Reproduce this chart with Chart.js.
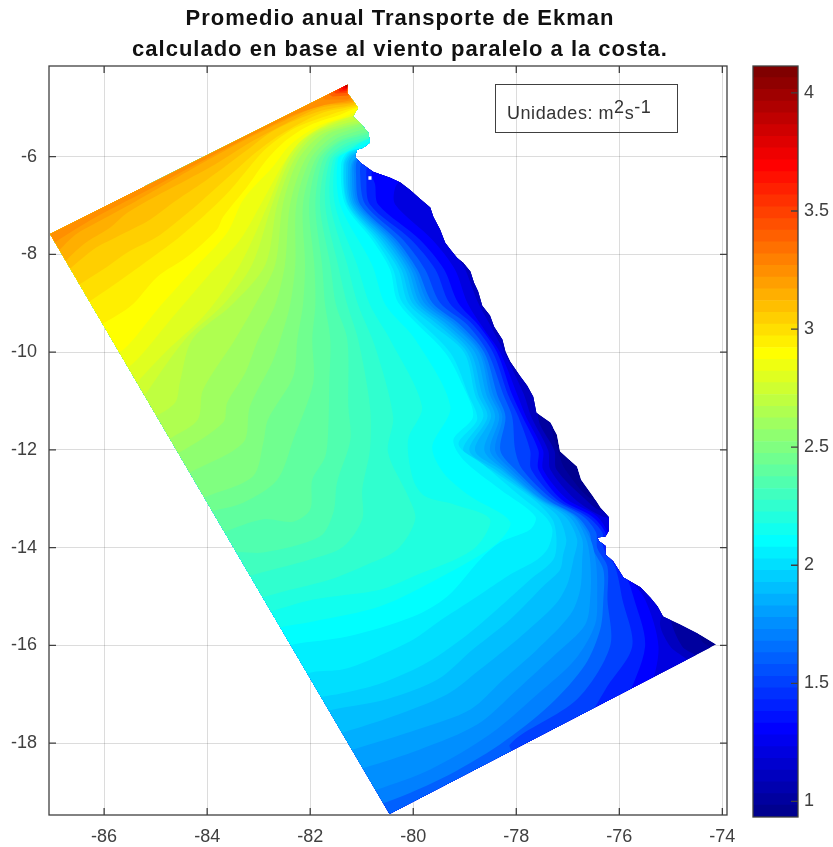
<!DOCTYPE html>
<html>
<head>
<meta charset="utf-8">
<title>Promedio anual Transporte de Ekman</title>
<script src="https://cdn.jsdelivr.net/npm/chart.js@4"></script>
<style>
  html, body { margin: 0; padding: 0; background: #fff; }
  #wrap { position: relative; width: 833px; height: 847px; overflow: hidden; font-family: "Liberation Sans", sans-serif; }
  #mapChart { position: absolute; left: 0; top: 0; }
  #barChart { position: absolute; left: 740px; top: 0; }
  #title { position: absolute; left: 0; top: 2px; width: 800px; text-align: center; color: #111; font-weight: bold;
           font-size: 22px; line-height: 31px; letter-spacing: 1px; white-space: nowrap; }
  #units { position: absolute; left: 495px; top: 84px; width: 181px; height: 47px; border: 1.5px solid #404040;
           color: #333; font-size: 18px; line-height: 56px; text-indent: 11px; white-space: nowrap; letter-spacing: 0.55px; }
  #units sup { font-size: 18px; line-height: 0; vertical-align: 6px; }
</style>
</head>
<body>
<div id="wrap">
  <canvas id="mapChart" width="800" height="847"></canvas>
  <canvas id="barChart" width="93" height="847"></canvas>
  <div id="title"></div>
  <div id="units">Unidades: m<sup>2</sup>s<sup>-1</sup></div>
</div>
<script>
const titleLines = ['Promedio anual Transporte de Ekman', 'calculado en base al viento paralelo a la costa.'];
const lonTicks = [-86, -84, -82, -80, -78, -76, -74];
const latTicks = [-18, -16, -14, -12, -10, -8, -6];
const barTicks = [1, 1.5, 2, 2.5, 3, 3.5, 4];

// edges of the 64 colorbar bands
const bandEdges = [0.934, 0.984, 1.033, 1.083, 1.133, 1.182, 1.232, 1.282, 1.332, 1.381, 1.431, 1.481, 1.530, 1.580, 1.630, 1.679,
  1.729, 1.779, 1.828, 1.878, 1.928, 1.978, 2.027, 2.077, 2.127, 2.176, 2.226, 2.276, 2.325, 2.375, 2.425, 2.474,
  2.524, 2.574, 2.624, 2.673, 2.723, 2.773, 2.822, 2.872, 2.922, 2.971, 3.021, 3.071, 3.121, 3.170, 3.220, 3.270,
  3.319, 3.369, 3.419, 3.468, 3.518, 3.568, 3.617, 3.667, 3.717, 3.767, 3.816, 3.866, 3.916, 3.965, 4.015, 4.065, 4.114];

// outline of the area with data [lon, lat]
const outline = [[-87.05,-7.58],[-81.28,-4.53],[-81.28,-4.69],[-81.20,-4.81],[-81.07,-5.00],[-81.17,-5.18],[-81.03,-5.31],[-80.87,-5.51],
  [-80.84,-5.71],[-80.97,-5.82],[-81.09,-5.86],[-81.13,-6.00],[-81.03,-6.12],[-80.78,-6.31],[-80.45,-6.43],[-80.25,-6.53],[-80.06,-6.68],
  [-79.87,-6.86],[-79.67,-7.04],[-79.61,-7.23],[-79.48,-7.49],[-79.38,-7.76],[-79.28,-7.90],[-79.15,-8.07],[-79.03,-8.17],[-78.89,-8.35],
  [-78.82,-8.58],[-78.74,-8.76],[-78.66,-9.05],[-78.51,-9.25],[-78.43,-9.48],[-78.27,-9.74],[-78.21,-9.99],[-78.12,-10.19],[-77.92,-10.50],
  [-77.79,-10.68],[-77.67,-10.91],[-77.61,-11.24],[-77.34,-11.44],[-77.21,-11.69],[-77.15,-12.03],[-76.99,-12.18],[-76.82,-12.34],
  [-76.74,-12.61],[-76.51,-12.95],[-76.37,-13.18],[-76.20,-13.38],[-76.20,-13.65],[-76.27,-13.77],[-76.43,-13.79],[-76.39,-13.87],
  [-76.27,-13.96],[-76.27,-14.14],[-76.12,-14.28],[-75.92,-14.61],[-75.59,-14.81],[-75.40,-15.02],[-75.26,-15.20],[-75.15,-15.41],
  [-74.82,-15.57],[-74.43,-15.78],[-74.12,-15.98],[-80.46,-19.45]];
const speck = [[-80.87,-6.40],[-80.81,-6.40],[-80.81,-6.47],[-80.87,-6.47]];

// contour lines, number is the colorbar band that starts at that line
const e02 = [[-78,-25],[-74.20,-16.12],[-74.39,-15.92],[-74.53,-15.63],[-75.98,-13.01],[-76.53,-13.01],[-77.05,-12.40],[-77.19,-12.01],[-77.30,-11.58],[-77.15,-11.38]];
const e04 = [[-78,-25],[-74.43,-16.33],[-74.78,-16.02],[-75.01,-15.43],[-74.91,-15.06],[-75.98,-13.32],[-76.41,-13.22],[-76.66,-13.01],[-77.22,-12.40],[-77.26,-12.01],[-77.54,-11.48],[-77.57,-11.17],[-77.34,-10.97]];
const e06 = [[-78,-25],[-74.62,-16.45],[-75.01,-16.02],[-75.21,-15.57],[-75.11,-15.06],[-75.98,-13.42],[-76.33,-13.36],[-76.86,-13.01],[-77.34,-12.40],[-77.38,-12.01],[-77.71,-11.32],[-77.85,-10.87],[-78.23,-10.01],[-78.51,-9.44],[-78.74,-8.99],[-78.99,-8.31],[-79.24,-7.80],[-78.89,-7.39]];
const e08 = [[-78,-25],[-75.40,-16.90],[-75.24,-16.02],[-75.50,-15.06],[-75.88,-14.55],[-76.14,-14.14],[-76.21,-13.73],[-76.43,-13.36],[-77.01,-13.01],[-77.48,-12.40],[-77.48,-12.01],[-77.81,-11.32],[-77.98,-10.87],[-78.31,-10.01],[-78.62,-9.54],[-78.95,-8.99],[-79.19,-8.31],[-79.63,-7.70],[-80.35,-6.98],[-80.35,-6.63],[-80.16,-6.37]];
const e10 = [[-78,-25],[-75.88,-17.21],[-75.50,-16.02],[-75.71,-15.06],[-75.94,-14.39],[-76.25,-14.00],[-76.27,-13.69],[-76.53,-13.36],[-77.13,-13.01],[-77.57,-12.40],[-77.57,-12.01],[-77.88,-11.32],[-78.08,-10.87],[-78.37,-10.01],[-78.74,-9.44],[-79.13,-8.99],[-79.40,-8.31],[-79.87,-7.70],[-80.68,-6.98],[-80.74,-6.57],[-80.80,-6.31],[-80.35,-6.16]];
const e12 = [[-78,-25],[-76.66,-17.72],[-76.27,-16.90],[-75.75,-16.02],[-75.94,-15.06],[-76.08,-14.39],[-76.31,-14.00],[-76.33,-13.69],[-76.62,-13.36],[-77.22,-13.01],[-77.71,-12.40],[-77.73,-12.01],[-77.96,-11.32],[-78.16,-10.87],[-78.45,-10.01],[-78.84,-9.44],[-79.30,-8.99],[-79.57,-8.31],[-80.04,-7.70],[-80.84,-6.98],[-80.91,-6.43],[-80.87,-6.16],[-80.45,-6.06]];
const e14 = [[-78,-25],[-77.92,-18.43],[-78.12,-18.02],[-76.82,-17.10],[-76.18,-16.02],[-76.23,-15.06],[-76.23,-14.39],[-76.43,-14.00],[-76.45,-13.69],[-76.70,-13.36],[-77.30,-13.01],[-77.88,-12.40],[-78.02,-12.01],[-78.08,-11.32],[-78.25,-10.87],[-78.55,-10.01],[-78.95,-9.44],[-79.48,-8.99],[-79.77,-8.31],[-80.20,-7.70],[-80.93,-6.98],[-81.03,-6.37],[-80.99,-6.12],[-80.54,-6.00],[-80.25,-5.86]];
const e16 = [[-80.93,-19.25],[-80.64,-19.25],[-79.48,-18.74],[-78.31,-18.02],[-77.34,-17.21],[-76.66,-16.39],[-76.37,-15.67],[-76.31,-15.06],[-76.31,-14.45],[-76.53,-14.00],[-76.58,-13.69],[-76.82,-13.36],[-77.40,-13.01],[-78.02,-12.40],[-78.31,-12.01],[-78.21,-11.32],[-78.37,-10.87],[-78.62,-10.01],[-79.09,-9.44],[-79.63,-8.99],[-79.92,-8.31],[-80.33,-7.70],[-81.03,-6.98],[-81.11,-6.37],[-81.07,-6.06],[-80.60,-5.96],[-80.25,-5.82]];
const e17 = [[-81.07,-19.05],[-80.70,-18.95],[-79.67,-18.54],[-78.51,-17.82],[-77.59,-17.00],[-76.86,-16.29],[-76.47,-15.57],[-76.43,-14.96],[-76.45,-14.34],[-76.56,-13.83],[-76.86,-13.36],[-77.44,-13.01],[-78.10,-12.40],[-78.41,-12.01],[-78.27,-11.32],[-78.45,-10.87],[-78.68,-10.01],[-79.17,-9.44],[-79.71,-8.99],[-79.98,-8.31],[-80.39,-7.70],[-81.07,-6.98],[-81.15,-6.37],[-81.11,-6.06],[-80.60,-5.92],[-80.25,-5.80]];
const e18 = [[-81.28,-18.60],[-80.93,-18.50],[-79.87,-18.13],[-78.76,-17.62],[-77.98,-16.90],[-77.24,-16.18],[-76.66,-15.57],[-76.56,-14.96],[-76.56,-14.34],[-76.64,-13.83],[-76.89,-13.36],[-77.50,-13.01],[-78.18,-12.40],[-78.51,-12.01],[-78.33,-11.32],[-78.51,-10.87],[-78.72,-10.01],[-79.24,-9.44],[-79.79,-8.99],[-80.04,-8.31],[-80.45,-7.70],[-81.11,-6.98],[-81.19,-6.37],[-81.13,-6.06],[-80.60,-5.90],[-80.25,-5.76]];
const e19 = [[-81.52,-18.23],[-81.17,-18.13],[-79.92,-17.72],[-78.89,-17.31],[-78.25,-16.70],[-77.59,-16.08],[-76.95,-15.37],[-76.76,-14.86],[-76.72,-14.24],[-76.72,-13.83],[-76.97,-13.36],[-77.53,-13.01],[-78.25,-12.40],[-78.62,-12.01],[-78.41,-11.32],[-78.58,-10.87],[-78.80,-10.01],[-79.34,-9.44],[-79.87,-8.99],[-80.10,-8.31],[-80.50,-7.70],[-81.15,-6.98],[-81.22,-6.27],[-81.13,-6.02],[-80.62,-5.88],[-80.25,-5.73]];
const e20 = [[-81.71,-17.88],[-81.36,-17.78],[-80.39,-17.45],[-79.34,-17.00],[-78.70,-16.49],[-77.98,-15.88],[-77.24,-15.16],[-77.01,-14.75],[-76.89,-14.24],[-76.82,-13.83],[-77.05,-13.36],[-77.57,-13.01],[-78.31,-12.40],[-78.80,-12.01],[-78.49,-11.32],[-78.66,-10.87],[-78.88,-10.01],[-79.42,-9.44],[-79.94,-8.99],[-80.16,-8.31],[-80.56,-7.70],[-81.19,-6.98],[-81.26,-6.16],[-81.15,-5.96],[-80.64,-5.86],[-80.25,-5.71]];
const e21 = [[-81.90,-17.41],[-81.55,-17.31],[-80.51,-17.10],[-79.53,-16.70],[-78.84,-16.08],[-78.12,-15.47],[-77.44,-14.75],[-77.15,-14.45],[-77.09,-14.14],[-77.03,-13.83],[-77.19,-13.36],[-77.61,-13.01],[-78.41,-12.40],[-78.91,-12.01],[-78.56,-11.32],[-78.74,-10.87],[-78.95,-10.01],[-79.52,-9.44],[-80.02,-8.99],[-80.23,-8.31],[-80.62,-7.70],[-81.22,-6.98],[-81.30,-6.16],[-81.17,-5.94],[-80.66,-5.84],[-80.25,-5.67]];
const e22 = [[-82.10,-17.10],[-81.71,-17.04],[-81.28,-16.96],[-80.58,-16.76],[-79.73,-16.35],[-78.95,-15.78],[-78.37,-15.26],[-77.73,-14.65],[-77.28,-14.24],[-77.22,-13.83],[-77.30,-13.42],[-77.67,-13.01],[-78.49,-12.40],[-79.03,-12.01],[-78.64,-11.32],[-78.80,-10.87],[-79.01,-10.01],[-79.63,-9.44],[-80.10,-8.99],[-80.29,-8.31],[-80.68,-7.70],[-81.26,-6.98],[-81.34,-6.16],[-81.19,-5.92],[-80.68,-5.82],[-80.25,-5.65]];
const e23 = [[-82.35,-16.70],[-81.96,-16.55],[-81.36,-16.49],[-80.70,-16.23],[-80.00,-15.88],[-79.53,-15.53],[-78.76,-15.00],[-78.12,-14.55],[-77.59,-14.24],[-77.38,-14.00],[-77.30,-13.63],[-77.44,-13.36],[-77.92,-12.95],[-78.64,-12.30],[-79.12,-11.89],[-78.76,-11.38],[-78.93,-10.87],[-79.28,-10.01],[-80.21,-8.99],[-80.39,-8.31],[-80.74,-7.70],[-81.28,-6.98],[-81.36,-6.16],[-81.22,-5.90],[-80.72,-5.78],[-80.25,-5.59]];
const e24 = [[-82.78,-16.12],[-82.33,-15.98],[-81.28,-15.82],[-80.00,-15.41],[-79.34,-15.00],[-78.70,-14.24],[-78.31,-13.89],[-77.73,-13.63],[-77.63,-13.36],[-78.31,-12.81],[-79.03,-12.20],[-79.22,-11.79],[-78.84,-11.32],[-79.03,-10.70],[-79.38,-10.01],[-80.29,-8.99],[-80.45,-8.31],[-80.80,-7.70],[-81.32,-6.98],[-81.40,-6.16],[-81.26,-5.90],[-80.74,-5.76],[-80.25,-5.55]];
const e25 = [[-83.07,-15.78],[-82.58,-15.63],[-81.94,-15.51],[-80.64,-15.20],[-79.48,-14.61],[-78.41,-13.94],[-78.12,-13.47],[-78.89,-12.95],[-79.42,-12.46],[-79.63,-11.93],[-79.28,-11.11],[-79.96,-9.74],[-80.54,-9.03],[-80.80,-8.21],[-81.42,-6.98],[-81.46,-6.06],[-81.24,-5.88],[-80.80,-5.67],[-80.27,-5.51]];
const e26 = [[-83.17,-15.43],[-82.78,-15.31],[-81.94,-15.06],[-80.64,-14.86],[-80.00,-14.59],[-78.84,-14.04],[-78.51,-13.42],[-79.19,-13.12],[-79.77,-12.95],[-80.00,-12.61],[-80.10,-11.79],[-79.83,-11.11],[-80.45,-9.74],[-80.84,-9.03],[-81.09,-8.21],[-81.52,-6.98],[-81.50,-6.06],[-81.22,-5.86],[-80.93,-5.65],[-80.29,-5.49]];
const e27 = [[-83.26,-15.20],[-82.87,-15.00],[-81.61,-14.65],[-80.97,-14.38],[-80.31,-14.04],[-79.96,-13.42],[-80.10,-12.95],[-80.49,-12.05],[-80.39,-11.32],[-80.74,-9.89],[-81.07,-9.03],[-81.28,-8.21],[-81.61,-6.98],[-81.55,-6.06],[-81.26,-5.84],[-80.85,-5.63],[-80.31,-5.47]];
const e28 = [[-83.55,-14.75],[-83.22,-14.59],[-82.00,-14.24],[-81.36,-13.98],[-80.99,-13.42],[-80.99,-12.81],[-80.84,-11.99],[-80.84,-11.11],[-81.07,-9.74],[-81.28,-9.03],[-81.46,-8.21],[-81.71,-6.98],[-81.61,-6.06],[-81.32,-5.80],[-80.80,-5.61],[-80.35,-5.45]];
const e29 = [[-83.85,-14.28],[-83.50,-14.10],[-82.91,-14.10],[-81.81,-13.77],[-81.55,-13.28],[-81.48,-12.67],[-81.22,-11.79],[-81.26,-11.11],[-81.28,-9.74],[-81.50,-9.03],[-81.61,-8.21],[-81.81,-6.98],[-81.67,-6.06],[-81.36,-5.76],[-80.87,-5.59],[-80.39,-5.43]];
const e30 = [[-84.04,-13.87],[-83.69,-13.69],[-82.91,-13.42],[-82.33,-13.47],[-82.00,-13.22],[-81.96,-12.61],[-81.71,-12.14],[-81.65,-11.58],[-81.63,-10.66],[-81.61,-9.74],[-81.71,-9.03],[-81.77,-8.21],[-81.90,-6.98],[-81.75,-6.06],[-81.42,-5.71],[-80.93,-5.55],[-80.41,-5.41]];
const e31 = [[-84.33,-13.47],[-83.98,-13.28],[-83.30,-13.08],[-82.64,-12.61],[-82.33,-11.79],[-81.94,-10.62],[-81.96,-9.74],[-81.90,-9.03],[-81.92,-8.21],[-82.02,-6.98],[-81.83,-6.06],[-81.46,-5.69],[-81.03,-5.53],[-80.43,-5.35]];
const e32 = [[-84.43,-13.12],[-84.00,-12.95],[-83.11,-12.54],[-82.91,-11.85],[-82.82,-11.38],[-82.33,-10.50],[-82.25,-9.74],[-82.14,-9.03],[-82.10,-8.21],[-82.14,-6.98],[-81.90,-6.06],[-81.52,-5.65],[-81.13,-5.49],[-80.45,-5.28]];
const e33 = [[-84.72,-12.65],[-84.33,-12.46],[-83.30,-11.85],[-83.17,-11.11],[-82.74,-10.21],[-82.58,-9.74],[-82.39,-9.03],[-82.29,-8.21],[-82.27,-6.98],[-82.00,-6.06],[-81.59,-5.61],[-81.17,-5.43],[-80.47,-5.20]];
const e34 = [[-84.91,-12.20],[-84.53,-12.05],[-83.69,-11.44],[-83.61,-11.03],[-83.26,-10.42],[-83.01,-9.74],[-82.68,-9.03],[-82.49,-8.21],[-82.39,-6.98],[-82.10,-6.06],[-81.67,-5.55],[-81.22,-5.39],[-80.49,-5.14]];
const e35 = [[-85.01,-11.89],[-84.66,-11.73],[-84.18,-11.38],[-84.08,-10.77],[-83.46,-9.74],[-83.07,-9.03],[-82.68,-8.21],[-82.53,-6.98],[-82.23,-6.06],[-81.81,-5.57],[-81.32,-5.37],[-80.93,-5.28],[-80.51,-5.10]];
const e36 = [[-85.40,-11.48],[-85.05,-11.34],[-84.62,-11.03],[-84.53,-10.62],[-84.29,-9.74],[-83.52,-9.03],[-82.87,-8.21],[-82.64,-6.98],[-82.31,-6.06],[-81.90,-5.55],[-81.42,-5.35],[-80.99,-5.24],[-80.54,-5.08]];
const e37 = [[-85.40,-11.17],[-84.43,-9.74],[-83.69,-9.03],[-83.13,-8.21],[-82.74,-6.98],[-82.39,-6.06],[-82.00,-5.57],[-81.52,-5.33],[-81.09,-5.20],[-80.56,-5.04]];
const e38 = [[-85.59,-10.87],[-84.82,-10.01],[-84.04,-9.23],[-83.36,-8.21],[-82.82,-6.98],[-82.45,-6.06],[-82.10,-5.59],[-81.61,-5.33],[-81.19,-5.18],[-80.60,-5.00]];
const e39 = [[-85.79,-10.52],[-85.36,-10.15],[-84.66,-9.27],[-84.00,-8.46],[-83.36,-7.70],[-82.91,-6.88],[-82.53,-6.16],[-82.19,-5.69],[-81.71,-5.35],[-81.22,-5.18],[-80.62,-4.98]];
const e40 = [[-86.08,-10.11],[-85.63,-9.95],[-84.97,-9.13],[-84.27,-8.31],[-83.61,-7.55],[-83.30,-6.88],[-82.72,-6.20],[-82.39,-5.76],[-81.87,-5.39],[-81.32,-5.18],[-81.03,-5.04],[-80.64,-4.94]];
const e41 = [[-86.41,-9.64],[-85.50,-9.07],[-84.97,-8.46],[-84.39,-8.05],[-83.81,-7.49],[-83.69,-7.23],[-83.22,-6.61],[-82.84,-6.06],[-82.45,-5.65],[-82.00,-5.35],[-81.42,-5.14],[-81.09,-5.00],[-80.68,-4.92]];
const e42 = [[-86.66,-9.23],[-85.75,-8.58],[-85.05,-8.05],[-84.53,-7.64],[-84.00,-7.15],[-83.55,-6.68],[-83.17,-6.20],[-82.84,-5.82],[-82.29,-5.41],[-81.61,-5.14],[-81.09,-4.98],[-80.68,-4.90]];
const e43 = [[-86.85,-8.86],[-85.94,-8.25],[-85.55,-7.96],[-84.97,-7.64],[-84.47,-7.23],[-84.08,-6.88],[-83.50,-6.33],[-83.11,-5.96],[-82.58,-5.55],[-81.81,-5.12],[-81.13,-4.96],[-80.74,-4.83]];
const e44 = [[-86.95,-8.56],[-86.21,-7.90],[-85.75,-7.64],[-85.11,-7.29],[-84.66,-6.94],[-84.14,-6.57],[-83.69,-6.23],[-83.22,-5.86],[-82.68,-5.45],[-81.85,-5.08],[-81.17,-4.94],[-80.74,-4.81]];
const e45 = [[-86.95,-8.35],[-86.41,-7.80],[-85.88,-7.45],[-85.55,-7.15],[-84.91,-6.76],[-84.39,-6.47],[-83.85,-6.16],[-83.17,-5.71],[-82.49,-5.33],[-81.81,-5.00],[-81.19,-4.90],[-80.74,-4.77]];
const e46 = [[-87.01,-8.07],[-86.56,-7.60],[-86.08,-7.31],[-85.40,-6.92],[-84.72,-6.51],[-84.04,-6.10],[-83.36,-5.71],[-82.49,-5.26],[-81.81,-4.96],[-81.19,-4.88],[-80.74,-4.75]];
const e47 = [[-87.15,-7.90],[-86.82,-7.66],[-86.08,-7.19],[-85.11,-6.66],[-83.94,-6.00],[-82.39,-5.18],[-81.71,-4.94],[-81.28,-4.86],[-80.74,-4.73]];
const e48 = [[-81.90,-4.67],[-81.71,-4.83],[-81.28,-4.83]];
const e50 = [[-81.77,-4.63],[-81.57,-4.77],[-81.26,-4.75]];
const e52 = [[-81.65,-4.59],[-81.50,-4.71],[-81.26,-4.69]];
const e54 = [[-81.55,-4.53],[-81.42,-4.67],[-81.26,-4.65]];
const e56 = [[-81.48,-4.51],[-81.36,-4.63],[-81.24,-4.61]];
const e58 = [[-81.42,-4.49],[-81.32,-4.60],[-81.24,-4.59]];
const e60 = [[-81.38,-4.47],[-81.30,-4.58],[-81.24,-4.57]];
const e62 = [[-81.34,-4.45],[-81.28,-4.565],[-81.22,-4.55]];
const e64 = [[-81.32,-4.43],[-81.27,-4.545],[-81.22,-4.53]];

const mainLines = [e02, e04, e06, e08, e10, e12, e14, e16, e17, e18, e19, e20, e21, e22, e23, e24, e25, e26, e27, e28, e29, e30, e31, e32, e33, e34, e35, e36, e37, e38, e39, e40, e41, e42, e43, e44, e45, e46, e47];
const mainBands = [2, 4, 6, 8, 10, 12, 14, 16, 17, 18, 19, 20, 21, 22, 23, 24, 25, 26, 27, 28, 29, 30, 31, 32, 33, 34, 35, 36, 37, 38, 39, 40, 41, 42, 43, 44, 45, 46, 47];
const tipLines = [e48, e50, e52, e54, e56, e58, e60, e62, e64];
const tipBands = [48, 50, 52, 54, 56, 58, 60, 62, 64];
// far points outside the map, they close each line into an area
const mainClose = [[-79,-4.2],[-90,-3],[-90,-25]];
const tipClose = [[-80.9,-4.6],[-80.9,-4.0],[-82.5,-4.0]];

// same steps as matlab jet(64), i goes from 1 to 64
function jetColor(i) {
    var r = i <= 24 ? 0 : i <= 40 ? (i - 24) / 16 : i <= 56 ? 1 : (72 - i) / 16;
    var g = i <= 8 ? 0 : i <= 24 ? (i - 8) / 16 : i <= 40 ? 1 : i <= 56 ? (56 - i) / 16 : 0;
    var b = i <= 8 ? (i + 8) / 16 : i <= 24 ? 1 : i <= 40 ? (40 - i) / 16 : 0;
    return 'rgb(' + Math.round(r * 255) + ',' + Math.round(g * 255) + ',' + Math.round(b * 255) + ')';
}

function areaDataset(points, color, order, tension) {
    return {
        data: points.map(p => ({x: p[0], y: p[1]})),
        showLine: true,
        fill: 'shape',
        backgroundColor: color,
        borderWidth: 0,
        pointRadius: 0,
        tension: tension,
        order: order,
    };
}

var datasets = [areaDataset(outline, jetColor(1), 200, 0)];
mainLines.forEach((line, i) => {
    datasets.push(areaDataset(line.concat(mainClose), jetColor(mainBands[i]), 150 - i, 0.3));
});
tipLines.forEach((line, i) => {
    datasets.push(areaDataset(line.concat(tipClose), jetColor(tipBands[i]), 100 - i, 0));
});
datasets.push(areaDataset(speck, '#fff', 0, 0));

// everything stays inside the outline of the data area
const clipToOutline = {
    id: 'clipToOutline',
    beforeDatasetsDraw(chart) {
        var ctx = chart.ctx;
        ctx.save();
        ctx.beginPath();
        outline.forEach(p => {
            ctx.lineTo(chart.scales.x.getPixelForValue(p[0]), chart.scales.y.getPixelForValue(p[1]));
        });
        ctx.closePath();
        ctx.clip();
    },
    afterDatasetsDraw(chart) {
        chart.ctx.restore();
    }
};

// box around the axes and ticks that point inwards
function frameTicks(allSides) {
    return {
        id: 'frameTicks',
        afterDraw(chart) {
            var ctx = chart.ctx, a = chart.chartArea, len = 7;
            ctx.save();
            ctx.strokeStyle = '#404040';
            ctx.lineWidth = 1.3;
            ctx.strokeRect(a.left, a.top, a.right - a.left, a.bottom - a.top);
            ctx.beginPath();
            if (allSides) {
                chart.scales.x.ticks.forEach(t => {
                    var px = chart.scales.x.getPixelForValue(t.value);
                    ctx.moveTo(px, a.bottom); ctx.lineTo(px, a.bottom - len);
                    ctx.moveTo(px, a.top); ctx.lineTo(px, a.top + len);
                });
            }
            chart.scales.y.ticks.forEach(t => {
                var py = chart.scales.y.getPixelForValue(t.value);
                ctx.moveTo(a.right, py); ctx.lineTo(a.right - len, py);
                if (allSides) {
                    ctx.moveTo(a.left, py); ctx.lineTo(a.left + len, py);
                }
            });
            ctx.stroke();
            ctx.restore();
        }
    };
}

document.getElementById('title').innerHTML = titleLines.join('<br>');

const tickFont = {family: '"Liberation Sans", sans-serif', size: 18};

new Chart(document.getElementById('mapChart'), {
    type: 'scatter',
    data: {datasets: datasets},
    options: {
        responsive: false,
        animation: false,
        layout: {padding: {top: 66, right: 73}},
        plugins: {
            legend: {display: false},
            tooltip: {enabled: false},
        },
        scales: {
            x: {
                type: 'linear', min: -87.07, max: -73.91,
                afterBuildTicks: s => { s.ticks = lonTicks.map(v => ({value: v})); },
                afterFit: s => { s.height = 32; },
                grid: {color: 'rgba(38,38,38,0.16)', drawTicks: false},
                border: {display: false},
                ticks: {font: tickFont, color: '#404040', padding: 11, maxRotation: 0, callback: v => String(v)},
            },
            y: {
                type: 'linear', min: -19.47, max: -4.145,
                afterBuildTicks: s => { s.ticks = latTicks.map(v => ({value: v})); },
                afterFit: s => { s.width = 49; },
                grid: {color: 'rgba(38,38,38,0.16)', drawTicks: false},
                border: {display: false},
                ticks: {font: tickFont, color: '#404040', padding: 12, callback: v => String(v)},
            },
        },
    },
    plugins: [clipToOutline, frameTicks(true)],
});

var barSets = [];
for (let i = 0; i < bandEdges.length - 1; i++) {
    barSets.push({
        data: [[bandEdges[i], bandEdges[i + 1]]],
        backgroundColor: jetColor(i + 1),
        barPercentage: 1,
        categoryPercentage: 1,
        grouped: false,
    });
}

new Chart(document.getElementById('barChart'), {
    type: 'bar',
    data: {labels: [''], datasets: barSets},
    options: {
        responsive: false,
        animation: false,
        layout: {padding: {top: 66, bottom: 30, left: 13}},
        plugins: {legend: {display: false}, tooltip: {enabled: false}},
        scales: {
            x: {display: false},
            y: {
                position: 'right', min: 0.934, max: 4.114,
                afterBuildTicks: s => { s.ticks = barTicks.map(v => ({value: v})); },
                afterFit: s => { s.width = 35; },
                grid: {display: false, drawTicks: false},
                border: {display: false},
                ticks: {font: tickFont, color: '#404040', padding: 6, callback: v => String(v)},
            },
        },
    },
    plugins: [frameTicks(false)],
});
</script>
</body>
</html>
